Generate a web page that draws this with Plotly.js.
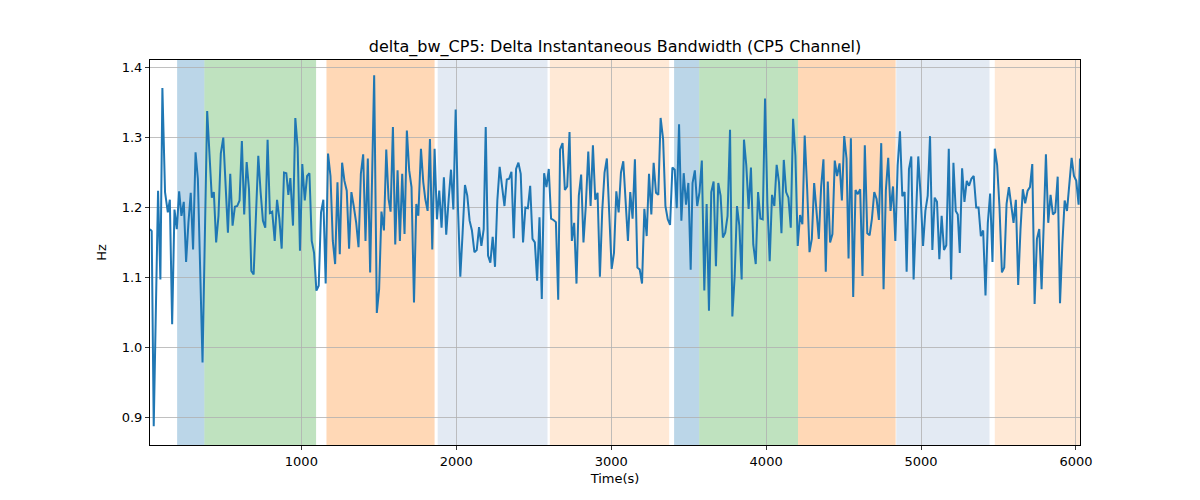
<!DOCTYPE html>
<html>
<head>
<meta charset="utf-8">
<script src="https://cdn.plot.ly/plotly-3.0.1.min.js"></script>
<style>
  body { margin: 0; background: #fff; }
  #bwplot { width: 1200px; height: 500px; }
</style>
</head>
<body>
<div id="bwplot"></div>
<script>
// Time stamps (s) and delta bandwidth (Hz)
var timeSec = [
    23, 34, 47, 75, 90, 103, 120, 138, 151, 166, 181, 196, 211, 226, 241, 256, 271, 286, 301, 317,
    332, 362, 392, 422, 435, 450, 465, 480, 496, 511, 526, 541, 556, 571, 586, 601, 616, 631, 647, 662,
    677, 692, 722, 737, 752, 767, 782, 797, 812, 828, 843, 858, 873, 888, 903,
    916, 929, 946, 961, 976, 991, 1006, 1022, 1037, 1052, 1067, 1082, 1097, 1112, 1127, 1142, 1157, 1172, 1188, 1203,
    1218, 1233, 1248, 1263, 1278, 1293, 1308, 1323, 1338, 1354, 1369, 1384, 1399, 1414, 1429, 1444, 1470, 1487, 1502, 1517,
    1533, 1548, 1563, 1576, 1591, 1606, 1621, 1636, 1651, 1666, 1681, 1696, 1711, 1727, 1742, 1755, 1772, 1787,
    1800, 1815, 1830, 1845, 1860, 1875, 1890, 1905, 1920, 1935, 1951, 1966, 1981, 1996, 2011, 2026, 2041, 2056, 2071, 2086,
    2101, 2117, 2132, 2147, 2162, 2177, 2190, 2205, 2220, 2235, 2250, 2265, 2280, 2296, 2311, 2326, 2341, 2356, 2371, 2386,
    2401, 2416, 2431, 2446, 2462, 2477, 2492, 2507, 2522, 2537, 2552, 2567, 2582, 2597, 2612, 2627, 2643, 2658,
    2670, 2686, 2701, 2716, 2731, 2746, 2761, 2776, 2791, 2806, 2821, 2836, 2852, 2867, 2882, 2897, 2912, 2927, 2942, 2957,
    2972, 2987, 3003, 3018, 3033, 3048, 3063, 3078, 3093, 3108, 3123, 3138, 3153, 3169, 3184, 3199, 3214, 3229, 3244, 3259,
    3274, 3289, 3304, 3319, 3335, 3350, 3365, 3380, 3395, 3410, 3423, 3438, 3453, 3468, 3483, 3498,
    3513, 3525, 3540, 3555, 3570, 3585, 3601, 3616, 3631, 3646, 3661, 3676, 3691, 3706, 3721, 3736, 3751, 3767, 3782, 3797,
    3812, 3827, 3842, 3857, 3872, 3887, 3902, 3917, 3933, 3948, 3963, 3978, 3993, 4008, 4023, 4038, 4053, 4068, 4083, 4099,
    4114, 4129, 4144, 4159, 4174, 4189, 4204, 4219, 4234, 4249, 4265, 4280, 4295, 4310, 4325, 4340, 4355, 4370,
    4385, 4398, 4413, 4428, 4443, 4458, 4474, 4489, 4504, 4519, 4532, 4547, 4562, 4577, 4592, 4607, 4622, 4637, 4653, 4668,
    4683, 4698, 4713, 4728, 4743, 4758, 4773, 4788, 4803, 4819, 4834, 4849, 4864, 4879, 4894, 4907, 4922, 4937, 4952, 4967,
    4982, 4997, 5013, 5028, 5043, 5058, 5073, 5088, 5103, 5118, 5133, 5148, 5163, 5179, 5194, 5209,
    5224, 5237, 5250, 5265, 5280, 5295, 5310, 5325, 5340, 5356, 5371, 5386, 5401, 5416, 5431, 5446, 5461, 5476, 5491, 5506,
    5522, 5537, 5552, 5567, 5582, 5597, 5612, 5627, 5642, 5657, 5672, 5688, 5703, 5718, 5733, 5748, 5763, 5778, 5793, 5806,
    5821, 5836, 5851, 5866, 5882, 5897, 5912, 5927, 5942, 5957, 5972, 5987, 6002, 6017, 6026
];

var deltaBw = [
    1.169, 1.166, 0.887, 1.224, 1.097, 1.371, 1.222, 1.193, 1.211, 1.033, 1.197, 1.169, 1.223, 1.188, 1.208, 1.122, 1.178, 1.221, 1.140, 1.279,
    1.241, 0.978, 1.338, 1.214, 1.222, 1.150, 1.188, 1.277, 1.300, 1.231, 1.164, 1.248, 1.174, 1.201, 1.202, 1.210, 1.295, 1.190, 1.265, 1.226,
    1.109, 1.104, 1.274, 1.222, 1.181, 1.171, 1.297, 1.192, 1.194, 1.152, 1.211, 1.184, 1.141, 1.250, 1.249,
    1.218, 1.242, 1.174, 1.328, 1.286, 1.138, 1.262, 1.210, 1.245, 1.249, 1.152, 1.135, 1.081, 1.088, 1.193, 1.211, 1.091, 1.277, 1.245, 1.152,
    1.119, 1.236, 1.133, 1.264, 1.238, 1.224, 1.141, 1.222, 1.202, 1.178, 1.143, 1.248, 1.276, 1.152, 1.270, 1.107, 1.389, 1.049, 1.083, 1.194,
    1.167, 1.283, 1.212, 1.194, 1.315, 1.147, 1.253, 1.152, 1.248, 1.162, 1.310, 1.253, 1.229, 1.064, 1.205, 1.188, 1.284, 1.236,
    1.212, 1.195, 1.298, 1.140, 1.284, 1.183, 1.224, 1.171, 1.243, 1.161, 1.212, 1.254, 1.197, 1.340, 1.198, 1.101, 1.164, 1.232, 1.217, 1.181,
    1.167, 1.136, 1.139, 1.172, 1.145, 1.169, 1.315, 1.131, 1.121, 1.158, 1.115, 1.210, 1.258, 1.229, 1.202, 1.240, 1.241, 1.251, 1.156, 1.255,
    1.264, 1.248, 1.150, 1.200, 1.199, 1.231, 1.155, 1.150, 1.095, 1.186, 1.069, 1.249, 1.229, 1.255, 1.184, 1.182, 1.179, 1.068,
    1.283, 1.292, 1.225, 1.230, 1.308, 1.152, 1.178, 1.091, 1.217, 1.247, 1.150, 1.202, 1.280, 1.202, 1.289, 1.211, 1.221, 1.101, 1.195, 1.250,
    1.270, 1.193, 1.112, 1.135, 1.223, 1.193, 1.250, 1.266, 1.210, 1.152, 1.222, 1.184, 1.269, 1.114, 1.111, 1.091, 1.198, 1.159, 1.248, 1.190,
    1.264, 1.221, 1.218, 1.328, 1.298, 1.202, 1.183, 1.175, 1.257, 1.254, 1.199, 1.319, 1.181, 1.249, 1.204, 1.235,
    1.111, 1.235, 1.253, 1.202, 1.222, 1.267, 1.081, 1.205, 1.052, 1.222, 1.237, 1.116, 1.235, 1.217, 1.157, 1.164, 1.188, 1.311, 1.044, 1.102,
    1.202, 1.174, 1.097, 1.297, 1.260, 1.198, 1.257, 1.147, 1.119, 1.222, 1.184, 1.183, 1.356, 1.207, 1.123, 1.218, 1.202, 1.261, 1.236, 1.163,
    1.268, 1.222, 1.214, 1.171, 1.327, 1.274, 1.145, 1.189, 1.176, 1.303, 1.226, 1.136, 1.155, 1.235, 1.195, 1.155, 1.229, 1.269,
    1.108, 1.237, 1.150, 1.162, 1.267, 1.245, 1.263, 1.210, 1.302, 1.270, 1.127, 1.299, 1.072, 1.225, 1.219, 1.226, 1.102, 1.289, 1.163, 1.160,
    1.184, 1.222, 1.212, 1.182, 1.292, 1.083, 1.225, 1.271, 1.195, 1.230, 1.152, 1.260, 1.309, 1.216, 1.222, 1.108, 1.255, 1.273, 1.097, 1.195,
    1.273, 1.218, 1.145, 1.195, 1.217, 1.302, 1.139, 1.214, 1.208, 1.126, 1.188, 1.139, 1.146, 1.284, 1.097, 1.264,
    1.195, 1.190, 1.135, 1.256, 1.208, 1.238, 1.231, 1.241, 1.245, 1.200, 1.200, 1.159, 1.167, 1.074, 1.178, 1.220, 1.122, 1.284, 1.261, 1.202,
    1.107, 1.114, 1.205, 1.229, 1.207, 1.178, 1.211, 1.089, 1.169, 1.226, 1.206, 1.224, 1.229, 1.262, 1.062, 1.155, 1.169, 1.083, 1.183, 1.276,
    1.178, 1.218, 1.190, 1.193, 1.244, 1.063, 1.147, 1.210, 1.195, 1.238, 1.271, 1.245, 1.238, 1.204, 1.270
];

// Shaded phases behind the trace
var spanStart = [198, 374, 1162, 1880, 2604, 3406, 3568, 4206, 4840, 5476];
var spanEnd   = [374, 1095, 1860, 2589, 3374, 3568, 4206, 4836, 5442, 6026];
var spanKind  = ['blue', 'green', 'orange', 'paleblue', 'paleorange',
                 'blue', 'green', 'orange', 'paleblue', 'paleorange'];

var spanFill = {
    blue: 'rgba(31,119,180,0.3)',
    green: 'rgba(44,160,44,0.3)',
    orange: 'rgba(255,127,14,0.3)',
    paleblue: 'rgba(176,196,222,0.35)',
    paleorange: 'rgba(255,127,14,0.17)'
};

var shapes = [];
for (var i = 0; i < spanStart.length; i++) {
    shapes.push({
        type: 'rect',
        xref: 'x', yref: 'paper',
        x0: spanStart[i], x1: spanEnd[i],
        y0: 0, y1: 1,
        fillcolor: spanFill[spanKind[i]],
        line: {width: 0},
        layer: 'below'
    });
}

var trace1 = {
    type: 'scatter',
    mode: 'lines',
    x: timeSec,
    y: deltaBw,
    line: {color: '#1f77b4', width: 2},
    hoverinfo: 'x+y'
};

var axisCommon = {
    showgrid: true,
    gridcolor: '#b0b0b0',
    gridwidth: 0.8,
    zeroline: false,
    showline: true,
    mirror: true,
    linecolor: '#000',
    linewidth: 1,
    ticks: 'outside',
    ticklen: 4,
    tickwidth: 0.8,
    tickcolor: '#000',
    tickfont: {family: 'DejaVu Sans', size: 13, color: '#000'}
};

var layout = {
    width: 1200,
    height: 500,
    margin: {l: 150, r: 120, t: 60, b: 55},
    paper_bgcolor: '#fff',
    plot_bgcolor: '#fff',
    showlegend: false,
    font: {family: 'DejaVu Sans', color: '#000'},
    title: {
        text: 'delta_bw_CP5: Delta Instantaneous Bandwidth (CP5 Channel)',
        font: {family: 'DejaVu Sans', size: 16, color: '#000'},
        xref: 'paper', x: 0.5, xanchor: 'center',
        yref: 'paper', y: 1, yanchor: 'bottom',
        pad: {b: 8}
    },
    xaxis: Object.assign({}, axisCommon, {
        range: [23, 6026],
        tickvals: [1000, 2000, 3000, 4000, 5000, 6000],
        title: {text: 'Time(s)', font: {family: 'DejaVu Sans', size: 13}, standoff: 6}
    }),
    yaxis: Object.assign({}, axisCommon, {
        range: [0.86, 1.411],
        tickvals: [0.9, 1.0, 1.1, 1.2, 1.3, 1.4],
        tickformat: '.1f',
        title: {text: 'Hz', font: {family: 'DejaVu Sans', size: 13}, standoff: 12}
    }),
    shapes: shapes
};

Plotly.newPlot('bwplot', [trace1], layout, {displayModeBar: false, staticPlot: true});
</script>
</body>
</html>
